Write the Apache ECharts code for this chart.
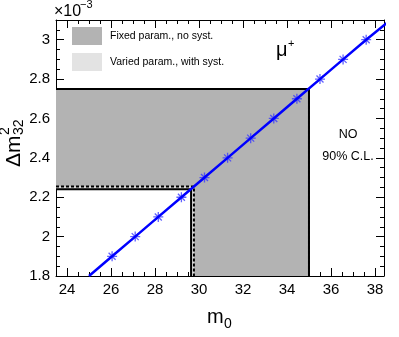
<!DOCTYPE html>
<html>
<head>
<meta charset="utf-8">
<script src="https://cdn.jsdelivr.net/npm/echarts@6/dist/echarts.min.js"></script>
<style>
  html, body { margin: 0; padding: 0; background: #fff; }
  #main { width: 399px; height: 337px; }
</style>
</head>
<body>
<div id="main"></div>
<script>
// axis ranges and tick labels
var xRange = [23.5, 38.41];
var yRange = [1.8, 3.1];
var xMajorTicks = [24, 26, 28, 30, 32, 34, 36, 38];
var yMajorTicks = [1.8, 2.0, 2.2, 2.4, 2.6, 2.8, 3.0];

// m0 vs dm2 curve (x1e-3) with star markers
var curveX = [25.0, 26.05, 27.1, 28.15, 29.2, 30.25, 31.3, 32.35, 33.4, 34.45, 35.5, 36.55, 37.6, 38.7];
var curveY = [1.8, 1.9, 2.0, 2.1, 2.2, 2.3, 2.4, 2.5, 2.6, 2.7, 2.8, 2.9, 3.0, 3.1];
var markX = [26.05, 27.1, 28.15, 29.2, 30.25, 31.3, 32.35, 33.4, 34.45, 35.5, 36.55, 37.6];
var markY = [1.9, 2.0, 2.1, 2.2, 2.3, 2.4, 2.5, 2.6, 2.7, 2.8, 2.9, 3.0];

// excluded regions: fixed param (no syst) and varied param (with syst)
var fixedX = [23.5, 35.0, 35.0, 29.77, 29.77, 23.5];
var fixedY = [2.75, 2.75, 1.8, 1.8, 2.255, 2.255];
var variedX = [23.5, 35.0, 35.0, 29.64, 29.64, 23.5];
var variedY = [2.75, 2.75, 1.8, 1.8, 2.24, 2.24];

var FONT = '"Liberation Sans", Arial, Helvetica, sans-serif';

function minorOf(major, step, lo, hi) {
  var out = [];
  var start = major[0] - step * Math.floor((major[0] - lo) / step);
  for (var v = start; v <= hi + 1e-9; v += step) {
    out.push(Math.round(v * 1000) / 1000);
  }
  return out;
}
var xMinorTicks = minorOf(xMajorTicks, 0.5, xRange[0], xRange[1]);
var yMinorTicks = minorOf(yMajorTicks, 0.05, yRange[0], yRange[1]);

function axis(range, pos, ticks, len, labels, line) {
  return {
    type: 'value', position: pos, min: range[0], max: range[1],
    axisLine: { show: line, onZero: false, lineStyle: { color: '#000', width: 1 } },
    axisTick: { show: true, inside: true, length: len, customValues: ticks, lineStyle: { color: '#000', width: 1 } },
    axisLabel: labels ? {
      show: true, customValues: ticks, color: '#000', fontSize: 15, fontFamily: FONT, margin: 6,
      formatter: function (v) { return (Math.round(v * 10) / 10).toString(); }
    } : { show: false },
    splitLine: { show: false }
  };
}

function toPairs(xs, ys) {
  return xs.map(function (x, i) { return [x, ys[i]]; });
}

function polySeries(xs, ys, fill) {
  return {
    type: 'custom', data: [[xs[0], ys[0]]], clip: true, silent: true,
    renderItem: function (params, api) {
      var pts = xs.map(function (x, i) { return api.coord([x, ys[i]]); });
      return { type: 'polygon', shape: { points: pts }, style: { fill: fill } };
    }
  };
}

function edge(xs, ys, dashed) {
  return {
    type: 'line', data: toPairs(xs, ys), showSymbol: false, silent: true,
    lineStyle: { color: '#000', width: 2, type: dashed ? [3, 2] : 'solid' }
  };
}

var myChart = echarts.init(document.getElementById('main'));
myChart.setOption({
  animation: false,
  grid: { left: 56, top: 20, width: 328, height: 256 },
  xAxis: [
    axis(xRange, 'bottom', xMajorTicks, 8, true, true),
    axis(xRange, 'bottom', xMinorTicks, 4, false, false),
    axis(xRange, 'top', xMajorTicks, 8, false, true),
    axis(xRange, 'top', xMinorTicks, 4, false, false)
  ],
  yAxis: [
    axis(yRange, 'left', yMajorTicks, 8, true, true),
    axis(yRange, 'left', yMinorTicks, 4, false, false),
    axis(yRange, 'right', yMajorTicks, 8, false, true),
    axis(yRange, 'right', yMinorTicks, 4, false, false)
  ],
  series: [
    polySeries(variedX, variedY, '#e0e0e0'),
    polySeries(fixedX, fixedY, '#b3b3b3'),
    edge([23.5, 35.0, 35.0], [2.75, 2.75, 1.8], false),
    edge([23.5, 29.64, 29.64], [2.24, 2.24, 1.8], false),
    edge([23.5, 35.0, 35.0], [2.75, 2.75, 1.8], true),
    edge([23.5, 29.77, 29.77], [2.255, 2.255, 1.8], true),
    {
      type: 'line', data: toPairs(curveX, curveY), showSymbol: false, silent: true,
      lineStyle: { color: '#0000ff', width: 2.5 }
    },
    {
      type: 'scatter', data: toPairs(markX, markY), silent: true,
      symbol: 'path://M5 0L5 10M0 5L10 5M1.5 1.5L8.5 8.5M8.5 1.5L1.5 8.5',
      symbolSize: 10,
      itemStyle: { color: 'rgba(0,0,0,0)', borderColor: '#3a3aff', borderWidth: 1.3 }
    }
  ],
  graphic: [
    // legend
    { type: 'rect', shape: { x: 72, y: 27, width: 30, height: 18 }, style: { fill: '#b3b3b3' } },
    { type: 'rect', shape: { x: 72, y: 53, width: 30, height: 18 }, style: { fill: '#e3e3e3' } },
    { type: 'text', x: 110, y: 36, style: { text: 'Fixed param., no syst.', font: '10.5px ' + FONT, fill: '#000', textVerticalAlign: 'middle' } },
    { type: 'text', x: 110, y: 62, style: { text: 'Varied param., with syst.', font: '10.5px ' + FONT, fill: '#000', textVerticalAlign: 'middle' } },
    // mu+
    { type: 'text', x: 276, y: 50, style: { text: 'μ', font: '20px ' + FONT, fill: '#000', textVerticalAlign: 'middle' } },
    { type: 'text', x: 288, y: 44, style: { text: '+', font: '11px ' + FONT, fill: '#000', textVerticalAlign: 'middle' } },
    // NO / 90% C.L.
    { type: 'text', x: 348, y: 135, style: { text: 'NO', font: '12.5px ' + FONT, fill: '#000', textAlign: 'center', textVerticalAlign: 'middle' } },
    { type: 'text', x: 348, y: 157, style: { text: '90% C.L.', font: '12.5px ' + FONT, fill: '#000', textAlign: 'center', textVerticalAlign: 'middle' } },
    // x10^-3
    { type: 'text', x: 54, y: 12, style: { text: '×10', font: '16px ' + FONT, fill: '#000', textVerticalAlign: 'middle' } },
    { type: 'text', x: 80, y: 5, style: { text: '−3', font: '11px ' + FONT, fill: '#000', textVerticalAlign: 'middle' } },
    // x title m0
    { type: 'text', x: 207, y: 317, style: { text: 'm', font: '20px ' + FONT, fill: '#000', textVerticalAlign: 'middle' } },
    { type: 'text', x: 224, y: 324, style: { text: '0', font: '14px ' + FONT, fill: '#000', textVerticalAlign: 'middle' } },
    // y title dm2_32 (rotated)
    {
      type: 'group', x: 22, y: 167, rotation: Math.PI / 2,
      children: [
        { type: 'text', x: 0, y: -8, style: { text: 'Δm', font: '21px ' + FONT, fill: '#000', textVerticalAlign: 'middle' } },
        { type: 'text', x: 32, y: -17, style: { text: '2', font: '14px ' + FONT, fill: '#000', textVerticalAlign: 'middle' } },
        { type: 'text', x: 32, y: -3, style: { text: '32', font: '14px ' + FONT, fill: '#000', textVerticalAlign: 'middle' } }
      ]
    }
  ]
});
</script>
</body>
</html>
